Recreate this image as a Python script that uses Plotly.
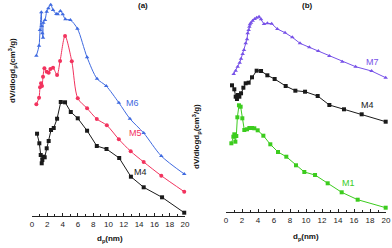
import plotly.graph_objects as go

W, H = 392, 248

# ---- Panel (a) data (arbitrary y units, axis has no ticks) ----
m6_x = [0.57, 0.92, 1.05, 1.22, 1.27, 1.35, 1.44, 1.48, 1.70, 1.92, 2.14, 2.45, 2.75, 3.19, 3.36, 3.71, 4.02, 4.37, 5.02, 5.94, 7.2, 8.5, 9.7, 11.35, 12.8, 14.6, 16.9, 19.9]
m6_y = [160.3, 170.3, 186, 203.7, 190, 182.7, 178.3, 193.3, 196, 204.3, 207.7, 211.3, 206, 202, 201.7, 205, 201.7, 196.7, 196, 187.3, 158.7, 137.3, 130, 113.3, 97.3, 83, 60, 42]

m5_x = [0.57, 0.92, 1.05, 1.18, 1.31, 1.44, 1.62, 1.92, 2.18, 2.40, 2.75, 3.28, 3.67, 4.32, 5.2, 5.98, 7.2, 8.47, 9.78, 11.35, 12.9, 14.6, 16.9, 19.9]
m5_y = [111.7, 118.3, 128.7, 132.7, 130, 139.3, 147.7, 144.3, 143.3, 147, 148.3, 141, 155, 180, 154.7, 117.7, 107.7, 97, 90.7, 76.7, 64.7, 54, 40.3, 24.3]

m4a_x = [0.66, 0.96, 1.14, 1.27, 1.35, 1.48, 1.66, 1.92, 2.18, 2.49, 2.84, 3.28, 3.76, 4.32, 5.07, 5.98, 7.2, 8.47, 9.74, 11.4, 12.93, 14.6, 17.0, 19.9]
m4a_y = [82.3, 72.7, 61, 52.7, 56, 59.3, 58.7, 67.7, 75, 86, 88, 97.3, 114, 113.7, 104, 97.7, 85.3, 70, 67, 58, 39.3, 28.7, 18.7, 3.3]

# ---- Panel (b) data ----
m7_x = [0.96, 1.21, 1.46, 1.71, 1.88, 2.08, 2.25, 2.46, 2.63, 2.71, 2.83, 2.92, 3.0, 3.13, 3.33, 3.58, 3.83, 4.13, 4.38, 4.75, 5.17, 5.71, 6.42, 7.38, 8.29, 9.25, 10.42, 11.54, 12.92, 14.54, 16.2, 18.2, 19.96]
m7_y = [138, 141.3, 145.3, 149.3, 153.3, 158, 162, 168.7, 172.7, 178.7, 182, 185.3, 187.7, 189.3, 191.3, 193, 194.3, 195.3, 192.7, 188, 188.7, 188.3, 183, 179.3, 174.7, 168.7, 164.7, 161, 156, 150.3, 145.3, 141, 134.3]

m4b_x = [0.75, 1.04, 1.21, 1.37, 1.5, 1.67, 1.88, 2.17, 2.46, 2.83, 3.25, 3.83, 4.38, 5.17, 6.08, 7.46, 8.67, 9.88, 11.46, 12.92, 14.75, 16.96, 19.96]
m4b_y = [126.7, 122.7, 115.3, 113, 117, 115.3, 118.7, 124.3, 128.7, 129.3, 134.7, 141.3, 141, 136.7, 133, 126, 121.3, 120.3, 116, 107, 102.7, 97.7, 90.3]

m1_x = [0.67, 0.92, 1.04, 1.17, 1.29, 1.42, 1.62, 1.83, 2.04, 2.29, 2.63, 2.92, 3.25, 3.54, 3.96, 4.67, 5.54, 6.5, 7.54, 8.75, 9.79, 11.13, 12.71, 14.46, 16.46, 19.96]
m1_y = [68.7, 75.3, 77.7, 70.3, 76, 94.7, 106.7, 105.3, 93.7, 82, 82.7, 84, 84, 83.7, 81.7, 76.3, 67.7, 60, 55.3, 46.7, 40, 37, 28.7, 19.7, 12.3, 4.3]

tick_vals = list(range(0, 21, 2))
tick_text = [str(v) for v in tick_vals]

BLUE = "#3f6ae0"
RED = "#f2335e"
BLACK = "#1a1a1a"
PURPLE = "#7752e8"
GREEN = "#3ccc1e"

fig = go.Figure()

def add(x, y, color, symbol, xa, ya, shape="linear"):
    fig.add_trace(go.Scatter(
        x=x, y=y, mode="lines+markers", xaxis=xa, yaxis=ya,
        line=dict(color=color, width=1, shape=shape, smoothing=0.8),
        marker=dict(color=color, symbol=symbol, size=4, line=dict(width=0)),
        cliponaxis=False, showlegend=False, hoverinfo="skip"))

add(m6_x, m6_y, BLUE, "triangle-up", "x", "y", "spline")
add(m5_x, m5_y, RED, "circle", "x", "y", "spline")
add(m4a_x, m4a_y, BLACK, "square", "x", "y")
add(m7_x, m7_y, PURPLE, "triangle-up", "x2", "y2")
add(m4b_x, m4b_y, BLACK, "square", "x2", "y2")
add(m1_x, m1_y, GREEN, "square", "x2", "y2")

xcommon = dict(range=[0, 20], tickvals=tick_vals, ticktext=tick_text,
               ticks="inside", ticklen=3, tickwidth=1, tickcolor="#222",
               showline=True, linecolor="#222", linewidth=1, showgrid=False,
               zeroline=False, automargin=False,
               tickfont=dict(family="Liberation Sans, Arial", size=8, color="#222"),
               minor=dict(dtick=1, ticks="inside", ticklen=2, tickcolor="#222", showgrid=False))

fig.update_layout(
    width=W, height=H, margin=dict(l=0, r=0, t=0, b=0),
    paper_bgcolor="white", plot_bgcolor="white",
    xaxis=dict(domain=[32/W, 185/W], anchor="y", **xcommon),
    yaxis=dict(domain=[(H-216)/H, 1], range=[0, 216], visible=False, anchor="x"),
    xaxis2=dict(domain=[226/W, 386/W], anchor="y2", **xcommon),
    yaxis2=dict(domain=[(H-212)/H, 1], range=[0, 212], visible=False, anchor="x2"),
)

def ann(px, py, text, color="#111", size=8, bold=False, angle=0):
    fig.add_annotation(x=px/W, y=1-py/H, xref="paper", yref="paper",
                       text=("<b>%s</b>" % text) if bold else text,
                       showarrow=False, textangle=angle,
                       font=dict(family="Liberation Sans, Arial", size=size, color=color),
                       xanchor="center", yanchor="middle")

ylab = "dV/dlogd<sub>p</sub>(cm<sup>3</sup>/g)"
ann(12, 71, ylab, bold=True, angle=-90)
ann(196, 137, ylab, bold=True, angle=-90)
ann(110, 239, "d<sub>p</sub>(nm)", bold=True)
ann(306, 237, "d<sub>p</sub>(nm)", bold=True)
ann(143, 6, "(a)", bold=True)
ann(307, 6, "(b)", bold=True)
ann(132, 103, "M6", color=BLUE, size=9)
ann(135, 133, "M5", color=RED, size=9)
ann(140, 172, "M4", color=BLACK, size=9)
ann(372, 62, "M7", color=PURPLE, size=9)
ann(367, 105, "M4", color=BLACK, size=9)
ann(348, 183, "M1", color=GREEN, size=9)

fig.write_html("out.html", config={"displayModeBar": False},
               post_script="document.body.style.margin='0';document.body.style.overflow='hidden';")
